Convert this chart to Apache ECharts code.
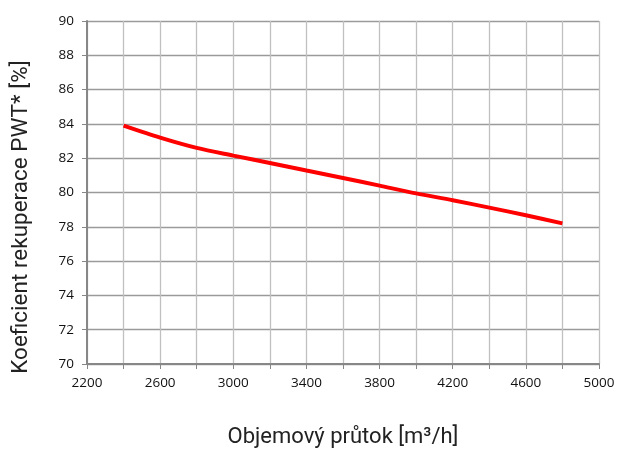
<!DOCTYPE html>
<html>
<head>
<meta charset="utf-8">
<script src="https://cdn.jsdelivr.net/npm/echarts@6/dist/echarts.min.js"></script>
<style>
  html, body { margin: 0; padding: 0; background: #fff; }
  #chart { width: 618px; height: 450px; }
</style>
</head>
<body>
<div id="chart"></div>
<script>
// Airflow (m³/h) and heat recovery efficiency (%)
const flowRates = [2400, 2600, 2800, 3000, 3200, 3400, 3600, 3800, 4000, 4200, 4400, 4600, 4800];
const efficiency = [83.9, 83.2, 82.6, 82.15, 81.72, 81.28, 80.85, 80.4, 79.95, 79.55, 79.12, 78.67, 78.2];

const xMin = 2200, xMax = 5000, xStep = 200, xLabelStep = 400;
const yMin = 70, yMax = 90, yStep = 2;

const xTitle = 'Objemový průtok [m³/h]';
const yTitle = 'Koeficient rekuperace PWT* [%]';

const chart = echarts.init(document.getElementById('chart'), null, { renderer: 'canvas' });

chart.setOption({
  backgroundColor: '#ffffff',
  animation: false,
  grid: { left: 87, right: 19, top: 21, bottom: 86, containLabel: false, outerBoundsMode: 'none' },
  // vertical axis title, placed slightly below the plot's centre
  graphic: [{
    type: 'text',
    x: 21, y: 217,
    rotation: Math.PI / 2,
    style: {
      text: yTitle,
      font: '22.5px Roboto',
      fill: '#222',
      align: 'center',
      verticalAlign: 'middle'
    }
  }],
  xAxis: {
    type: 'value',
    min: xMin, max: xMax, interval: xStep,
    name: xTitle,
    nameLocation: 'middle',
    nameGap: 62,
    nameTextStyle: { fontFamily: 'Roboto', fontSize: 22, color: '#222' },
    axisLine: { show: true, lineStyle: { color: '#878787', width: 2 } },
    axisTick: { show: true, length: 5, lineStyle: { color: '#878787', width: 1 } },
    axisLabel: {
      fontFamily: 'Open Sans', fontSize: 13.5, color: '#111', margin: 12,
      formatter: v => ((v - xMin) % xLabelStep === 0 ? String(v) : '')
    },
    splitLine: { show: true, lineStyle: { color: '#c0c0c0', width: 1.3 } }
  },
  yAxis: {
    type: 'value',
    min: yMin, max: yMax, interval: yStep,
    axisLine: { show: true, lineStyle: { color: '#878787', width: 2 } },
    axisTick: { show: true, length: 5, lineStyle: { color: '#878787', width: 1 } },
    axisLabel: { fontFamily: 'Open Sans', fontSize: 13.5, color: '#111', margin: 13 },
    splitLine: { show: true, lineStyle: { color: '#9a9a9a', width: 1.3 } }
  },
  series: [{
    type: 'line',
    data: flowRates.map((x, i) => [x, efficiency[i]]),
    smooth: 0.3,
    showSymbol: false,
    lineStyle: { color: '#ff0000', width: 4 }
  }]
});
</script>
</body>
</html>
